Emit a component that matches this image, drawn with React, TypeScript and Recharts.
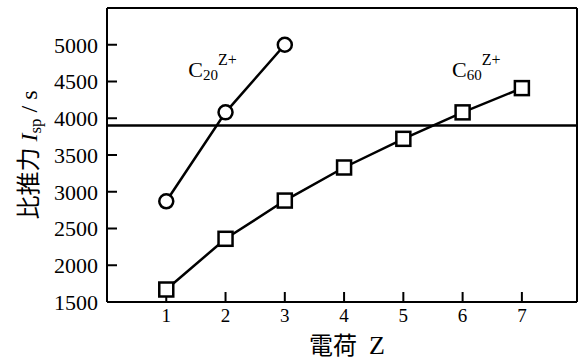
import { LineChart, Line, XAxis, YAxis, ReferenceLine, ReferenceDot } from 'recharts';

// charge state Z and specific impulse (s)
const charges = [1, 2, 3, 4, 5, 6, 7];
const c20Isp = [2870, 4080, 5000];
const c60Isp = [1670, 2360, 2880, 3330, 3720, 4080, 4410];
const xTicks = [1, 2, 3, 4, 5, 6, 7];
const yTicks = [1500, 2000, 2500, 3000, 3500, 4000, 4500, 5000];
const requiredIsp = 3900;

const data = charges.map((z, i) => ({ z, c20: c20Isp[i], c60: c60Isp[i] }));

const serif = 'Liberation Serif';
const cjk = 'Noto Sans CJK JP';
const axisStroke = { stroke: '#000', strokeWidth: 2 };

const SquareDot = (props: any) => {
  const { cx, cy, index } = props;
  if (cx == null || cy == null) return <g key={index} />;
  return (
    <rect key={index} x={cx - 7} y={cy - 7} width={14} height={14}
      fill="#fff" stroke="#000" strokeWidth={2.5} />
  );
};

const SpeciesLabel = ({ cx, cy, n }: any) => (
  <text x={cx} y={cy} style={{ fontFamily: serif }} fill="#000">
    <tspan fontSize={22}>C</tspan>
    <tspan fontSize={15} dy={3}>{n}</tspan>
    <tspan fontSize={16} dy={-15}>Z+</tspan>
  </text>
);

const YTitle = () => (
  <text transform="translate(37,155) rotate(-90)" textAnchor="middle" fill="#000" fontSize={24}>
    <tspan style={{ fontFamily: cjk }}>比推力</tspan>
    <tspan style={{ fontFamily: serif, fontStyle: 'italic' }} dx={6}>I</tspan>
    <tspan style={{ fontFamily: serif }} fontSize={17} dy={4}>sp</tspan>
    <tspan style={{ fontFamily: serif }} dy={-4}> / s</tspan>
  </text>
);

const XTitle = () => (
  <text x={347} y={354} textAnchor="middle" fill="#000">
    <tspan style={{ fontFamily: cjk }} fontSize={24}>電荷</tspan>
    <tspan style={{ fontFamily: serif }} fontSize={26} dx={12}>Z</tspan>
  </text>
);

export default function App() {
  return (
    <div style={{ position: 'absolute', left: 0, top: 0, background: '#fff', fontFamily: serif }}>
      <LineChart width={582} height={362} data={data} style={{ fontFamily: serif }}
        margin={{ top: 0, right: 0, bottom: 0, left: 0 }}>
        <XAxis dataKey="z" type="number" domain={[0, 7.93]} ticks={xTicks}
          height={60} tickSize={-10} tickMargin={17}
          axisLine={axisStroke} tickLine={axisStroke}
          tick={{ fontSize: 19, fill: '#000', style: { fontFamily: serif } }}
          label={<XTitle />} />
        <XAxis xAxisId="top" orientation="top" dataKey="z" type="number" domain={[0, 7.93]}
          ticks={xTicks} height={8} tickSize={-10} tick={false}
          axisLine={axisStroke} tickLine={axisStroke} />
        <YAxis type="number" domain={[1500, 5500]} ticks={yTicks} width={107}
          tickSize={-10} tickMargin={19}
          axisLine={axisStroke} tickLine={axisStroke}
          tick={{ fontSize: 22, fill: '#000', style: { fontFamily: serif } }}
          label={<YTitle />} />
        <YAxis yAxisId="right" orientation="right" type="number" domain={[1500, 5500]}
          ticks={yTicks} width={5} tickSize={-10} tick={false}
          axisLine={axisStroke} tickLine={axisStroke} />
        <ReferenceLine y={requiredIsp} stroke="#000" strokeWidth={2.5} />
        <Line dataKey="c20" type="linear" stroke="#000" strokeWidth={2.5}
          dot={{ r: 7, fill: '#fff', stroke: '#000', strokeWidth: 2.5 }}
          isAnimationActive={false} />
        <Line dataKey="c60" type="linear" stroke="#000" strokeWidth={2.5}
          dot={SquareDot} isAnimationActive={false} />
        <ReferenceDot x={1.37} y={4555} r={0}
          shape={(p: any) => <SpeciesLabel cx={p.cx} cy={p.cy} n="20" />} />
        <ReferenceDot x={5.82} y={4555} r={0}
          shape={(p: any) => <SpeciesLabel cx={p.cx} cy={p.cy} n="60" />} />
      </LineChart>
    </div>
  );
}
